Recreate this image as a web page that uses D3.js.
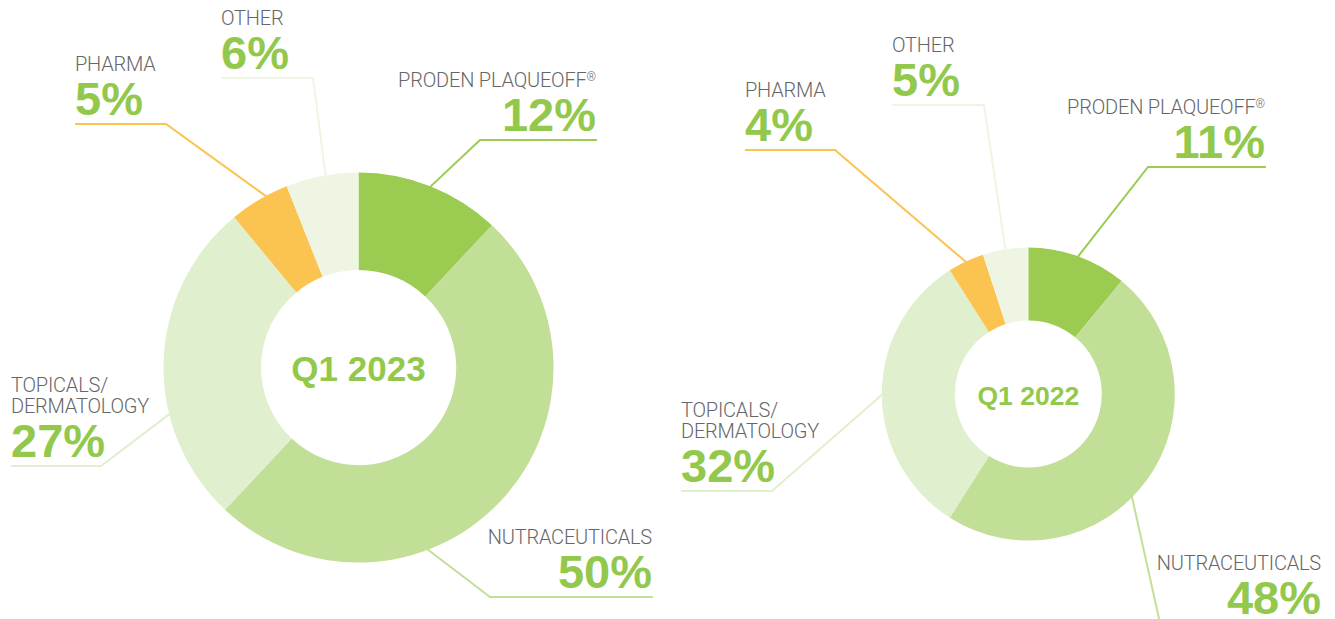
<!DOCTYPE html>
<html>
<head>
<meta charset="utf-8">
<script src="https://cdn.jsdelivr.net/npm/d3@7"></script>
<style>
  html, body { margin: 0; padding: 0; background: #fff; }
  svg { display: block; }
  .cat { font-family: Roboto, "Liberation Sans", sans-serif; font-weight: 300; font-size: 20px; fill: #666; letter-spacing: -0.2px; }
  .pct { font-family: "Liberation Sans", Arial, sans-serif; font-weight: bold; font-size: 47px; fill: #92c84c; }
  .title { font-family: "Liberation Sans", Arial, sans-serif; font-weight: bold; fill: #92c84c; }
</style>
</head>
<body>
<svg id="chart" width="1335" height="619"></svg>
<script>
// data
const categories = ['PRODEN PLAQUEOFF®', 'NUTRACEUTICALS', 'TOPICALS/DERMATOLOGY', 'PHARMA', 'OTHER'];
const categoryLines = [['PRODEN PLAQUEOFF®'], ['NUTRACEUTICALS'], ['TOPICALS/', 'DERMATOLOGY'], ['PHARMA'], ['OTHER']];
const values2023 = [12, 50, 27, 5, 6];
const values2022 = [11, 48, 32, 4, 5];
const periods = ['Q1 2023', 'Q1 2022'];
const sliceColors = ['#9bcb50', '#c2df98', '#e0efcd', '#fbc34f', '#eef6e3'];

// layout of each donut + its callouts (t = where the leader hits the slice, 0..1)
const layout = [
  {
    cx: 358.5, cy: 367.5, outer: 195, inner: 97.5, titleSize: 35,
    callouts: [
      { t: 0.5,  elbow: [480, 140], end: 597, anchor: 'end' },
      { t: 0.645, elbow: [490, 597], end: 653, anchor: 'end' },
      { t: 0.34, elbow: [101, 466], end: 11, anchor: 'start' },
      { t: 0.63, elbow: [166, 124], end: 75, anchor: 'start' },
      { t: 0.55, elbow: [313, 78], end: 221, anchor: 'start' }
    ]
  },
  {
    cx: 1028.3, cy: 394, outer: 146.5, inner: 73.5, titleSize: 26.5,
    callouts: [
      { t: 0.5,  elbow: [1148, 167], end: 1266, anchor: 'end' },
      { t: 0.55, elbow: [1160, 623], end: 1322, anchor: 'end' },
      { t: 0.5,  elbow: [772, 491], end: 681, anchor: 'start' },
      { t: 0.5,  elbow: [835, 150], end: 745, anchor: 'start' },
      { t: 0.5,  elbow: [984, 105], end: 892, anchor: 'start' }
    ]
  }
];

const svg = d3.select('#chart');
const color = d3.scaleOrdinal().domain(categories).range(sliceColors);

const pie = d3.pie()
  .value(d => d.value)
  .sort(null);

[values2023, values2022].forEach(function(values, ci) {
  const L = layout[ci];
  const data = categories.map((c, i) => ({ cat: c, lines: categoryLines[i], value: values[i] }));
  const arcs = pie(data);

  const arc = d3.arc()
    .innerRadius(L.inner)
    .outerRadius(L.outer);

  // leader lines (drawn first, under the donut)
  const lines = svg.append('g');
  arcs.forEach(function(a, i) {
    const co = L.callouts[i];
    const ang = a.startAngle + co.t * (a.endAngle - a.startAngle);
    const p = d3.pointRadial(ang, L.outer - 1);
    const pts = [[L.cx + p[0], L.cy + p[1]], co.elbow, [co.end, co.elbow[1]]];
    lines.append('path')
      .attr('d', d3.line()(pts))
      .attr('fill', 'none')
      .attr('stroke', color(a.data.cat))
      .attr('stroke-width', 2);

    const g = svg.append('g');
    const x = co.end + (co.anchor === 'start' ? 0 : -1);
    const y = co.elbow[1];
    g.append('text')
      .attr('class', 'pct')
      .attr('x', x)
      .attr('y', y - 9)
      .attr('text-anchor', co.anchor)
      .text(a.data.value + '%');
    const nl = a.data.lines.length;
    a.data.lines.forEach(function(t, li) {
      const txt = g.append('text')
        .attr('class', 'cat')
        .attr('x', x)
        .attr('y', y - 53 - (nl - 1 - li) * 21)
        .attr('text-anchor', co.anchor);
      if (t.endsWith('®')) {
        txt.append('tspan').text(t.slice(0, -1));
        txt.append('tspan').attr('font-size', 12).attr('dy', -6).text('®');
      } else {
        txt.text(t);
      }
    });
  });

  const donut = svg.append('g')
    .attr('transform', `translate(${L.cx}, ${L.cy})`);

  donut.selectAll('path')
    .data(arcs)
    .enter()
    .append('path')
    .attr('d', arc)
    .attr('fill', d => color(d.data.cat));

  donut.append('text')
    .attr('class', 'title')
    .attr('text-anchor', 'middle')
    .attr('y', L.titleSize * 0.36 + 1)
    .attr('font-size', L.titleSize)
    .text(periods[ci]);
});
</script>
</body>
</html>
